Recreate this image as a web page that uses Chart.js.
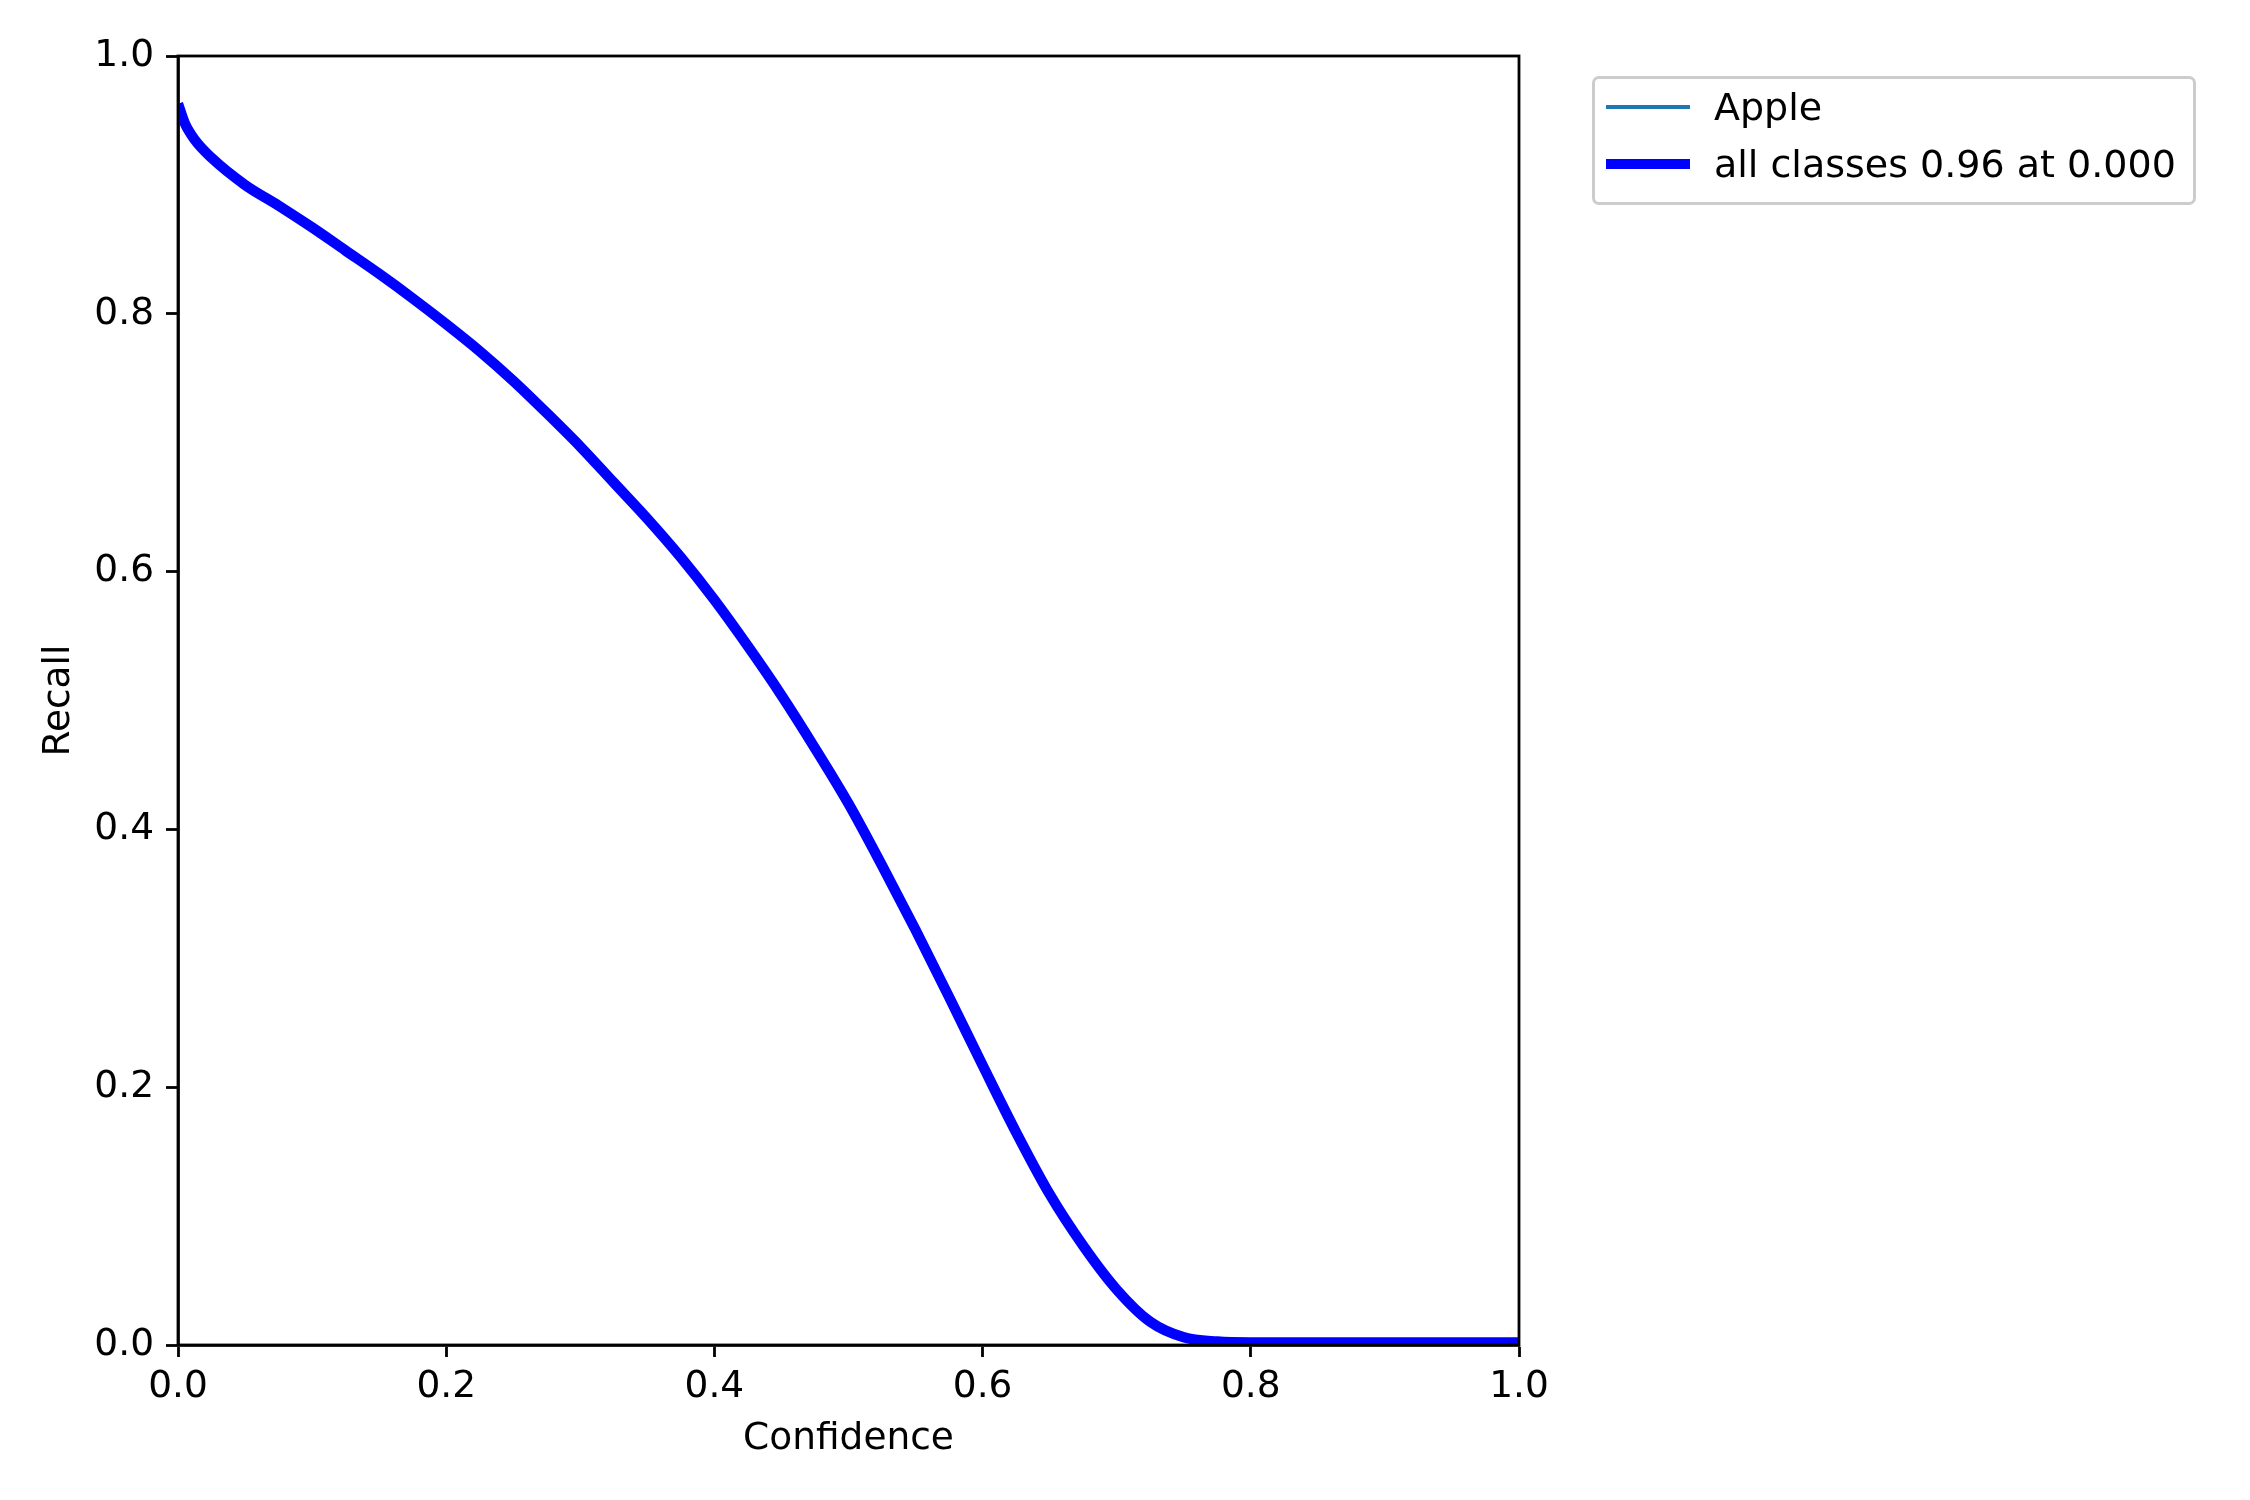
<!DOCTYPE html>
<html>
<head>
<meta charset="utf-8">
<script src="https://cdn.jsdelivr.net/npm/chart.js@4.4.1/dist/chart.umd.min.js"></script>
<style>
  body { margin: 0; background: #fff; }
  #wrap { position: relative; width: 2250px; height: 1500px; }
  #legend {
    position: absolute; left: 1592px; top: 76px; width: 598px; height: 123px;
    border: 3px solid #cccccc; border-radius: 7px; background: rgba(255,255,255,0.8);
    font-family: "DejaVu Sans"; font-size: 38px; color: #000;
  }
  .swatch { position: absolute; left: 11px; width: 84px; }
  .label { position: absolute; left: 119px; white-space: nowrap; line-height: 44px; }
</style>
</head>
<body>
<div id="wrap">
  <canvas id="recall-chart"></canvas>
  <div id="legend"></div>
</div>
<script>
// confidence threshold (x) and recall (y)
var confidence = [0, 0.005, 0.0125, 0.025, 0.05, 0.075, 0.1, 0.125, 0.15, 0.175,
  0.2, 0.225, 0.25, 0.275, 0.3, 0.325, 0.35, 0.375, 0.4, 0.425,
  0.45, 0.475, 0.5, 0.525, 0.55, 0.575, 0.6, 0.625, 0.65, 0.675,
  0.7, 0.725, 0.75, 0.775, 0.8, 0.85, 0.9, 1.0];
var recallApple = [0.963, 0.948, 0.935, 0.921, 0.9, 0.884, 0.867, 0.849, 0.831, 0.812,
  0.792, 0.771, 0.748, 0.723, 0.697, 0.669, 0.641, 0.611, 0.578, 0.542,
  0.504, 0.463, 0.42, 0.372, 0.322, 0.27, 0.217, 0.165, 0.117, 0.077,
  0.043, 0.018, 0.006, 0.0027, 0.002, 0.002, 0.002, 0.002];
var recallAll = recallApple.slice();   // single class, so "all classes" is the same curve
var tickValues = [0, 0.2, 0.4, 0.6, 0.8, 1.0];

function toPoints(xs, ys) {
  var pts = [];
  for (var i in xs) {
    pts.push({x: xs[i], y: ys[i]});
  }
  return pts;
}

var font = {family: 'DejaVu Sans', size: 37.5};

// full box around the axes, like matplotlib spines
var frame = {
  id: 'frame',
  afterDatasetsDraw(chart) {
    var a = chart.chartArea, ctx = chart.ctx;
    ctx.save();
    ctx.strokeStyle = '#000';
    ctx.lineWidth = 2.8;
    ctx.strokeRect(a.left, a.top, a.right - a.left, a.bottom - a.top);
    ctx.restore();
  }
};

var chart = new Chart('recall-chart', {
  type: 'line',
  data: {
    datasets: [{
      label: 'all classes 0.96 at 0.000',
      data: toPoints(confidence, recallAll),
      borderColor: '#0000ff',
      borderWidth: 10.4,
      pointRadius: 0,
      cubicInterpolationMode: 'monotone',
      order: 0
    }, {
      label: 'Apple',
      data: toPoints(confidence, recallApple),
      borderColor: '#1f77b4',
      borderWidth: 3.5,
      pointRadius: 0,
      cubicInterpolationMode: 'monotone',
      order: 1
    }]
  },
  options: {
    responsive: true,
    maintainAspectRatio: false,
    animation: false,
    layout: {padding: {top: 56, right: 731, left: 0, bottom: 0}},
    plugins: {legend: {display: false}, tooltip: {enabled: false}},
    scales: {
      x: {
        type: 'linear', min: 0, max: 1,
        afterFit(scale) { scale.height = 155; },
        afterBuildTicks(scale) { scale.ticks = tickValues.map(function (v) { return {value: v}; }); },
        ticks: {color: '#000', font: font, padding: 8, maxRotation: 0,
          callback: function (v) { return v.toFixed(1); }},
        grid: {drawOnChartArea: false, tickLength: 12, tickWidth: 2.8, tickColor: '#000'},
        border: {color: '#000', width: 2.8},
        title: {display: true, text: 'Confidence', color: '#000', font: font,
          padding: {top: 0, bottom: 38}}
      },
      y: {
        type: 'linear', min: 0, max: 1,
        afterFit(scale) { scale.width = 178; },
        afterBuildTicks(scale) { scale.ticks = tickValues.map(function (v) { return {value: v}; }); },
        ticks: {color: '#000', font: font, padding: 12,
          callback: function (v) { return v.toFixed(1); }},
        grid: {drawOnChartArea: false, tickLength: 12, tickWidth: 2.8, tickColor: '#000'},
        border: {color: '#000', width: 2.8},
        title: {display: true, text: 'Recall', color: '#000', font: font,
          padding: {top: 37, bottom: 0}}
      }
    }
  },
  plugins: [frame]
});

// legend box, Apple listed first as in the original
var legend = document.getElementById('legend');
var rows = [chart.data.datasets[1], chart.data.datasets[0]];
var rowY = [28, 85];
for (var r in rows) {
  var ds = rows[r];
  var sw = document.createElement('div');
  sw.className = 'swatch';
  sw.style.top = (rowY[r] - ds.borderWidth / 2) + 'px';
  sw.style.height = ds.borderWidth + 'px';
  sw.style.background = ds.borderColor;
  legend.appendChild(sw);
  var lb = document.createElement('div');
  lb.className = 'label';
  lb.style.top = (rowY[r] - 22) + 'px';
  lb.textContent = ds.label;
  legend.appendChild(lb);
}
</script>
</body>
</html>
